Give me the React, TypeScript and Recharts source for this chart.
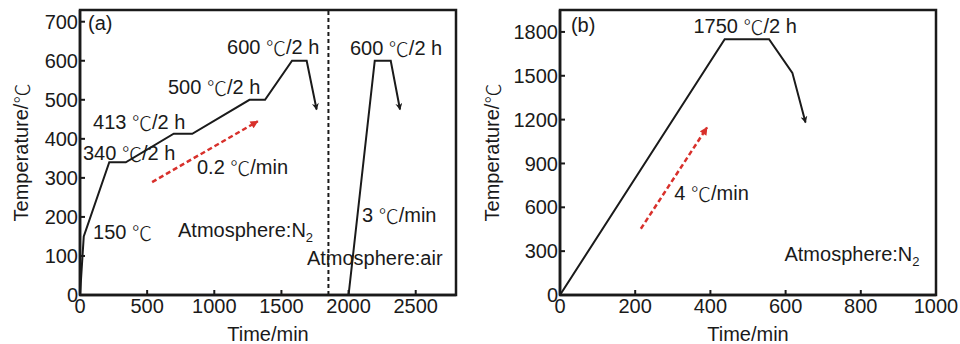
import React from 'react';
import { LineChart, Line, XAxis, YAxis, ReferenceLine, ReferenceArea, ReferenceDot } from 'recharts';

// panel (a)
const aXTicks = [0, 500, 1000, 1500, 2000, 2500];
const aYTicks = [0, 100, 200, 300, 400, 500, 600, 700];
const n2Time = [0, 28, 218, 341, 698, 836, 1262, 1378, 1579, 1688, 1762];
const n2Temp = [0, 150, 340, 340, 413, 413, 500, 500, 600, 600, 475];
const airTime = [2000, 2195, 2314, 2383];
const airTemp = [0, 600, 600, 475];
const aRateTime = [537, 1324];
const aRateTemp = [289, 445];
const aDivider = 1850;

// panel (b)
const bXTicks = [0, 200, 400, 600, 800, 1000];
const bYTicks = [0, 300, 600, 900, 1200, 1500, 1800];
const bTime = [0, 438, 556, 618, 653];
const bTemp = [0, 1750, 1750, 1520, 1180];
const bRateTime = [215, 391];
const bRateTemp = [453, 1146];

const aNotes = [
  { text: '(a)', t: 60, v: 697 },
  { text: '600 ℃/2 h', t: 1095, v: 635 },
  { text: '500 ℃/2 h', t: 655, v: 533 },
  { text: '413 ℃/2 h', t: 97, v: 443 },
  { text: '340 ℃/2 h', t: 22, v: 364 },
  { text: '0.2 ℃/min', t: 871, v: 328 },
  { text: '150 ℃', t: 97, v: 162 },
  { text: 'Atmosphere:N', sub: '2', t: 730, v: 167 },
  { text: '600 ℃/2 h', t: 2010, v: 633 },
  { text: '3 ℃/min', t: 2100, v: 205 },
  { text: 'Atmosphere:air', t: 1690, v: 95 },
];

const bNotes = [
  { text: '(b)', t: 29, v: 1847 },
  { text: '1750 ℃/2 h', t: 355, v: 1841 },
  { text: '4 ℃/min', t: 304, v: 699 },
  { text: 'Atmosphere:N', sub: '2', t: 597, v: 282 },
];

const FONT = '"Liberation Sans", Arial, sans-serif';
const CJK = '"Noto Sans CJK SC", "Liberation Sans", sans-serif';
const INK = '#1a1a1a';
const RED = '#d8302b';

const zip = (xs: number[], ys: number[]) => xs.map((t, i) => ({ t, v: ys[i] }));

// the degree sign is drawn with the CJK font, like the original figure
const withDeg = (s: string) =>
  s.split('℃').map((part, i) => (
    <React.Fragment key={i}>
      {i > 0 && <tspan fontFamily={CJK} fontWeight={300}>℃</tspan>}
      {part}
    </React.Fragment>
  ));

type Note = { text: string; sub?: string; t: number; v: number };

const NoteText = (props: any) => {
  const { cx, cy, note } = props;
  return (
    <text x={cx} y={cy} dominantBaseline="central" fontFamily={FONT} fontSize={20} fill={INK}>
      {withDeg(note.text)}
      {note.sub && (
        <tspan fontSize={13} dy={7}>
          {note.sub}
        </tspan>
      )}
    </text>
  );
};

interface PanelProps {
  id: string;
  xMax: number;
  yMax: number;
  xTicks: number[];
  yTicks: number[];
  profiles: { t: number; v: number }[][];
  rate: { t: number; v: number }[];
  notes: Note[];
  divider?: number;
  yLabelX: number;
}

function Panel({ id, xMax, yMax, xTicks, yTicks, profiles, rate, notes, divider, yLabelX }: PanelProps) {
  const tick = { fontSize: 20, fill: INK, fontFamily: FONT };
  const yLabel = (p: any) => {
    const vb = p.viewBox;
    const cy = vb.y + vb.height / 2;
    return (
      <text
        x={yLabelX}
        y={cy}
        transform={`rotate(-90 ${yLabelX} ${cy})`}
        textAnchor="middle"
        dominantBaseline="central"
        fontFamily={FONT}
        fontSize={20}
        fill={INK}
      >
        {withDeg('Temperature/℃')}
      </text>
    );
  };
  return (
    <LineChart width={480} height={344} margin={{ top: 10, right: 24, bottom: 0, left: 0 }} style={{ overflow: 'visible' }}>
      <defs>
        <marker id={`${id}-blk`} viewBox="0 0 10 10" refX="9" refY="5" markerWidth="13" markerHeight="7"
          orient="auto" markerUnits="userSpaceOnUse">
          <path d="M0,0 L10,5 L0,10 L3,5 z" fill={INK} />
        </marker>
        <marker id={`${id}-red`} viewBox="0 0 10 10" refX="9" refY="5" markerWidth="10" markerHeight="8"
          orient="auto" markerUnits="userSpaceOnUse">
          <path d="M0,0 L10,5 L0,10 z" fill={RED} />
        </marker>
      </defs>
      <XAxis
        dataKey="t"
        type="number"
        domain={[0, xMax]}
        ticks={xTicks}
        interval={0}
        tickSize={-5}
        tickMargin={9}
        tick={tick}
        axisLine={{ stroke: INK, strokeWidth: 2.5 }}
        tickLine={{ stroke: INK, strokeWidth: 2 }}
        height={49}
        label={{ value: 'Time/min', position: 'insideBottom', offset: 3, fontSize: 20, fill: INK, fontFamily: FONT }}
      />
      <YAxis
        type="number"
        domain={[0, yMax]}
        ticks={yTicks}
        interval={0}
        tickSize={-5}
        tickMargin={7}
        tick={tick}
        width={80}
        axisLine={{ stroke: INK, strokeWidth: 2.5 }}
        tickLine={{ stroke: INK, strokeWidth: 2 }}
        label={{ content: yLabel }}
      />
      <ReferenceArea x1={0} x2={xMax} y1={0} y2={yMax} fill="none" stroke={INK} strokeWidth={2.5} />
      {divider !== undefined && (
        <ReferenceLine x={divider} stroke={INK} strokeWidth={2} strokeDasharray="4 3" />
      )}
      {profiles.map((d, i) => (
        <Line
          key={i}
          data={d}
          dataKey="v"
          type="linear"
          stroke={INK}
          strokeWidth={2}
          dot={false}
          isAnimationActive={false}
          markerEnd={`url(#${id}-blk)`}
        />
      ))}
      <Line
        data={rate}
        dataKey="v"
        type="linear"
        stroke={RED}
        strokeWidth={2.5}
        strokeDasharray="5 3"
        dot={false}
        isAnimationActive={false}
        markerEnd={`url(#${id}-red)`}
      />
      {notes.map((n, i) => (
        <ReferenceDot
          key={`n${i}`}
          x={n.t}
          y={n.v}
          r={0}
          ifOverflow="visible"
          shape={(p: any) => <NoteText {...p} note={n} />}
        />
      ))}
    </LineChart>
  );
}

export default function App() {
  return (
    <div style={{ position: 'absolute', left: 0, top: 0, width: 960, height: 344, display: 'flex', background: '#fff' }}>
      <Panel
        id="a"
        xMax={2800}
        yMax={730}
        xTicks={aXTicks}
        yTicks={aYTicks}
        profiles={[zip(n2Time, n2Temp), zip(airTime, airTemp)]}
        rate={zip(aRateTime, aRateTemp)}
        notes={aNotes}
        divider={aDivider}
        yLabelX={21}
      />
      <Panel
        id="b"
        xMax={1000}
        yMax={1950}
        xTicks={bXTicks}
        yTicks={bYTicks}
        profiles={[zip(bTime, bTemp)]}
        rate={zip(bRateTime, bRateTemp)}
        notes={bNotes}
        yLabelX={12}
      />
    </div>
  );
}
